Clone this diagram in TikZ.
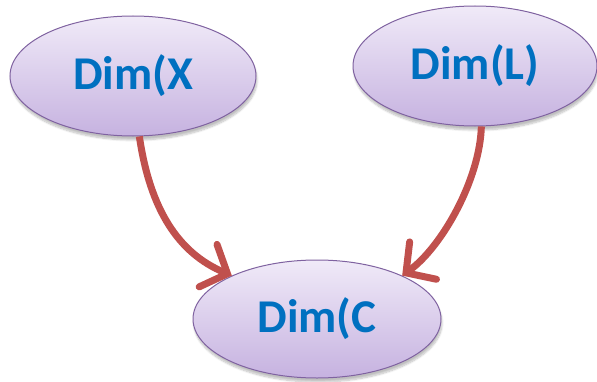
\documentclass[tikz,border=0pt]{standalone}
\usepackage{fontspec}
\setmainfont{Carlito}
\usetikzlibrary{shapes.geometric,arrows.meta,shadows.blur}
\definecolor{dimblue}{HTML}{0070C0}
\definecolor{dimedge}{HTML}{7F62A0}
\definecolor{dimtop}{HTML}{F0EAF8}
\definecolor{dimbot}{HTML}{C6B2E0}
\definecolor{linkred}{HTML}{C0504D}
\tikzset{
  dimnode/.style={ellipse, draw=dimedge, line width=1pt,
    top color=dimtop, bottom color=dimbot,
    minimum width=#1, minimum height=120pt, inner sep=0pt,
    font=\fontsize{47}{52}\selectfont\bfseries, text=dimblue,
    blur shadow={shadow xshift=1pt, shadow yshift=-4pt, shadow opacity=25, shadow blur steps=8}},
  link/.style={draw=linkred, line width=7pt,
    -{Straight Barb[length=21pt, width=46pt, line cap=round]}}
}
\begin{document}
\begin{tikzpicture}[x=1pt,y=1pt]
  \useasboundingbox (0,0) rectangle (597,381);
  \node[dimnode=246pt] (X) at (133,305) {Dim(X};
  \node[dimnode=244pt] (L) at (475,315) {Dim(L)};
  \node[dimnode=248pt, minimum height=118pt] (C) at (317,62) {Dim(C};
  \draw[link] (X.-84) .. controls (150,172) and (178,128) .. (C.153);
  \draw[link] (L.-84) .. controls (480,202) and (442,134) .. (C.27);
\end{tikzpicture}
\end{document}
